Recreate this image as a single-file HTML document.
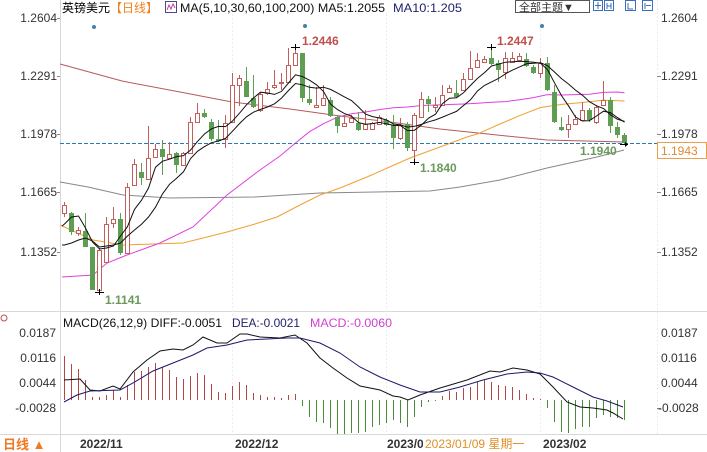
<!DOCTYPE html>
<html><head><meta charset="utf-8"><style>
html,body{margin:0;padding:0;background:#fff;}
svg{display:block;}
</style></head><body>
<svg width="707" height="452" viewBox="0 0 707 452" xmlns="http://www.w3.org/2000/svg" font-family="'Liberation Sans','Noto Sans CJK SC',sans-serif">
<rect width="707" height="452" fill="#fff"/>
<!-- frame / grid -->
<g stroke="#d8d8d8" stroke-width="1" fill="none">
<line x1="60.5" y1="0" x2="60.5" y2="452"/>
<line x1="0" y1="311.5" x2="707" y2="311.5"/>
<line x1="0" y1="434.5" x2="707" y2="434.5"/>
</g>
<g stroke="#ececec" stroke-width="1" stroke-dasharray="2,2">
<line x1="657.5" y1="0" x2="657.5" y2="434"/>
<line x1="232.5" y1="14" x2="232.5" y2="434"/>
<line x1="386.5" y1="14" x2="386.5" y2="434"/>
<line x1="540.5" y1="14" x2="540.5" y2="434"/>
</g>
<g stroke="#888" stroke-width="1">
<line x1="57" y1="18.5" x2="60" y2="18.5"/><line x1="57" y1="76.5" x2="60" y2="76.5"/><line x1="57" y1="134.5" x2="60" y2="134.5"/><line x1="57" y1="192.5" x2="60" y2="192.5"/><line x1="57" y1="252.5" x2="60" y2="252.5"/>
<line x1="657" y1="76.5" x2="661" y2="76.5"/><line x1="657" y1="134.5" x2="661" y2="134.5"/><line x1="657" y1="192.5" x2="661" y2="192.5"/><line x1="657" y1="252.5" x2="661" y2="252.5"/>
<line x1="657" y1="408.5" x2="661" y2="408.5"/>
</g>

<!-- header -->
<text x="62" y="12" font-size="12" fill="#000">英镑美元</text>
<text x="110" y="12" font-size="12" fill="#f08020">【日线】</text>
<rect x="165.5" y="1.5" width="11" height="11" fill="none" stroke="#4a4a8a"/>
<polyline points="167,10 169,5 171,9 173,4 175,8" fill="none" stroke="#c040a0" stroke-width="1"/>
<text x="180" y="12" font-size="12" fill="#111" textLength="205" lengthAdjust="spacingAndGlyphs">MA(5,10,30,60,100,200) MA5:1.2055</text>
<text x="393" y="12" font-size="12" fill="#22226a" textLength="69" lengthAdjust="spacingAndGlyphs">MA10:1.205</text>
<rect x="515.5" y="0.5" width="74" height="12" fill="#fff" stroke="#555"/>
<text x="519" y="11" font-size="11" fill="#333">全部主题▼</text>
<g fill="none" stroke="#3b6fb6">
<rect x="593.5" y="0.5" width="9" height="10"/><rect x="604.5" y="0.5" width="9" height="10"/><rect x="625.5" y="0.5" width="10" height="10"/><rect x="642.5" y="0.5" width="10" height="10"/>
<path d="M598 2v7M595 5.5h6M607 3v6M611 3v6M607 6h4M628 3v6h5M645 3v6M646 5.5h5"/>
</g>

<!-- price axis labels -->
<g font-size="12" fill="#333" text-anchor="end">
<text x="57" y="22">1.2604</text><text x="57" y="80">1.2291</text><text x="57" y="138">1.1978</text><text x="57" y="196">1.1665</text><text x="57" y="256">1.1352</text>
</g>
<g font-size="12" fill="#333">
<text x="661" y="22">1.2604</text><text x="661" y="80">1.2291</text><text x="661" y="138">1.1978</text><text x="661" y="196">1.1665</text><text x="661" y="256">1.1352</text>
</g>

<!-- moving averages (behind candles) -->
<g fill="none" stroke-width="1">
<polyline stroke="#b85a5a" points="60,64 122,81 180,92 232,102 290,109 340,116 390,122 440,129 497,135 547,140 624,142"/>
<polyline stroke="#888" points="60,182 88,187 123,195 170,198 255,197 320,193 430,191 460,187 500,180 547,168 597,157 624,150"/>
<polyline stroke="#f0a030" points="60,225 93,240 123,245 183,243 227,232 255,224 277,217 300,205 320,195 340,188 367,177 410,158 440,147 467,137 477.5,133.9 500,124 519.5,115.7 540.5,107.5 561.5,104.4 582.5,102.5 603.5,100.1 624.5,101"/>
<polyline stroke="#e040e0" points="62,277 93,275 107,263 127,255 160,243 193,227 227,195 260,170 280,156 295.5,143 309.5,131.7 323.5,123.7 337.5,117.1 351.5,113.8 365.5,112 379.5,109.6 393.5,107.8 407.5,107 421.5,105.5 435.5,105 449.5,104.5 463.5,104 477.5,103.2 491.5,102.3 505.5,101.6 519.5,99.7 533.5,97.6 547.5,94.6 561.5,95 575.5,94.6 589.5,94.3 603.5,92.4 617.5,92 624.5,92.9"/>
</g>

<!-- dashed current price line -->
<line x1="60" y1="143.5" x2="657" y2="143.5" stroke="#2a7ab0" stroke-dasharray="4,2"/>

<!-- candles: wicks -->
<path fill="none" stroke="#c0605c" d="M64.5 202V217M78.5 227V236M99.5 248V292M106.5 217V262M113.5 207V228M127.5 183V253M134.5 159V185M148.5 126V179M155.5 144V157M169.5 142V158M183.5 152V165M190.5 117V153M197.5 103V122M225.5 115V148M232.5 73V122M239.5 75V106M260.5 92V112M267.5 82V95M274.5 70V89M281.5 73V90M288.5 48V82M295.5 47V66M316.5 87V108M323.5 85V106M344.5 115V127M351.5 115V123M365.5 110V130M372.5 122V130M379.5 115V125M400.5 118V140M414.5 113V162M421.5 92V118M435.5 97V112M442.5 85V106M449.5 85V93M463.5 73V91M470.5 51V80M477.5 53V68M484.5 56V63M505.5 52V79M512.5 52V63M519.5 53V61M540.5 58V78M568.5 115V138M575.5 115V125M582.5 102V121M596.5 105V124M603.5 81V106"/>
<path fill="none" stroke="#5e9e52" d="M71.5 212V235M85.5 213V247M92.5 247V290M120.5 213V255M141.5 163V185M162.5 140V175M176.5 152V173M204.5 109V118M211.5 119V141M218.5 120V142M246.5 67V97M253.5 75V108M302.5 53V102M309.5 85V105M330.5 97V117M337.5 115V133M358.5 112V131M386.5 118V126M393.5 115V149M407.5 122V151M428.5 96V112M456.5 80V98M491.5 47V65M498.5 60V82M526.5 53V67M533.5 65V74M547.5 57V91M554.5 85V123M561.5 117V131M589.5 108V122M610.5 97V133M617.5 122V138M624.5 133V144"/>
<!-- up candles (hollow) -->
<g fill="#fff" stroke="#c0605c">
<rect x="62.5" y="205.5" width="4" height="8"/>
<rect x="76.5" y="230.5" width="4" height="3"/>
<rect x="97.5" y="250.5" width="4" height="40"/>
<rect x="104.5" y="224.5" width="4" height="38"/>
<rect x="111.5" y="219.5" width="4" height="4"/>
<rect x="125.5" y="187.5" width="4" height="66"/>
<rect x="132.5" y="164.5" width="4" height="21"/>
<rect x="146.5" y="158.5" width="4" height="21"/>
<rect x="153.5" y="149.5" width="4" height="8"/>
<rect x="167.5" y="154.5" width="4" height="4"/>
<rect x="181.5" y="153.5" width="4" height="12"/>
<rect x="188.5" y="122.5" width="4" height="31"/>
<rect x="195.5" y="113.5" width="4" height="9"/>
<rect x="223.5" y="123.5" width="4" height="16"/>
<rect x="230.5" y="85.5" width="4" height="37"/>
<rect x="237.5" y="78.5" width="4" height="7"/>
<rect x="258.5" y="94.5" width="4" height="16"/>
<rect x="265.5" y="89.5" width="4" height="4"/>
<rect x="272.5" y="85.5" width="4" height="2"/>
<rect x="279.5" y="82.5" width="4" height="1"/>
<rect x="286.5" y="65.5" width="4" height="17"/>
<rect x="293.5" y="53.5" width="4" height="12"/>
<rect x="314.5" y="105.5" width="4" height="2"/>
<rect x="321.5" y="98.5" width="4" height="7"/>
<rect x="342.5" y="123.5" width="4" height="3"/>
<rect x="349.5" y="118.5" width="4" height="4"/>
<rect x="363.5" y="124.5" width="4" height="5"/>
<rect x="370.5" y="123.5" width="4" height="6"/>
<rect x="377.5" y="117.5" width="4" height="7"/>
<rect x="398.5" y="125.5" width="4" height="13"/>
<rect x="412.5" y="115.5" width="4" height="35"/>
<rect x="419.5" y="99.5" width="4" height="18"/>
<rect x="433.5" y="105.5" width="4" height="2"/>
<rect x="440.5" y="95.5" width="4" height="10"/>
<rect x="447.5" y="88.5" width="4" height="4"/>
<rect x="461.5" y="79.5" width="4" height="11"/>
<rect x="468.5" y="68.5" width="4" height="11"/>
<rect x="475.5" y="60.5" width="4" height="7"/>
<rect x="482.5" y="59.5" width="4" height="3"/>
<rect x="503.5" y="58.5" width="4" height="14"/>
<rect x="510.5" y="58.5" width="4" height="4"/>
<rect x="517.5" y="56.5" width="4" height="4"/>
<rect x="538.5" y="63.5" width="4" height="10"/>
<rect x="566.5" y="124.5" width="4" height="5"/>
<rect x="573.5" y="119.5" width="4" height="5"/>
<rect x="580.5" y="110.5" width="4" height="10"/>
<rect x="594.5" y="107.5" width="4" height="15"/>
<rect x="601.5" y="100.5" width="4" height="5"/>
</g>
<!-- down candles (filled) -->
<g fill="#5e9e52">
<rect x="69" y="213" width="5" height="19"/>
<rect x="83" y="231" width="5" height="16"/>
<rect x="90" y="247" width="5" height="43"/>
<rect x="118" y="219" width="5" height="34"/>
<rect x="139" y="172" width="5" height="6"/>
<rect x="160" y="149" width="5" height="8"/>
<rect x="174" y="153" width="5" height="12"/>
<rect x="202" y="113" width="5" height="4"/>
<rect x="209" y="122" width="5" height="17"/>
<rect x="216" y="139" width="5" height="2"/>
<rect x="244" y="81" width="5" height="16"/>
<rect x="251" y="98" width="5" height="9"/>
<rect x="300" y="53" width="5" height="45"/>
<rect x="307" y="99" width="5" height="4"/>
<rect x="328" y="100" width="5" height="16"/>
<rect x="335" y="117" width="5" height="9"/>
<rect x="356" y="123" width="5" height="7"/>
<rect x="384" y="120" width="5" height="5"/>
<rect x="391" y="125" width="5" height="13"/>
<rect x="405" y="124" width="5" height="24"/>
<rect x="426" y="99" width="5" height="5"/>
<rect x="454" y="93" width="5" height="4"/>
<rect x="489" y="58" width="5" height="6"/>
<rect x="496" y="63" width="5" height="7"/>
<rect x="524" y="59" width="5" height="7"/>
<rect x="531" y="67" width="5" height="6"/>
<rect x="545" y="63" width="5" height="27"/>
<rect x="552" y="92" width="5" height="30"/>
<rect x="559" y="127" width="5" height="3"/>
<rect x="587" y="110" width="5" height="10"/>
<rect x="608" y="100" width="5" height="26"/>
<rect x="615" y="127" width="5" height="8"/>
<rect x="622" y="135" width="5" height="8"/>
</g>

<!-- MA5 / MA10 (black) -->
<g fill="none" stroke="#111" stroke-width="1">
<polyline points="62,226 64.5,224 71.5,217 78.5,216 85.5,228 92.5,242 99.5,249 106.5,248 113.5,246 120.5,236 127.5,226.6 134.5,209.4 141.5,200.2 148.5,188 155.5,167.2 162.5,161.2 169.5,159.2 176.5,156.6 183.5,155.6 190.5,150.2 197.5,141.4 204.5,134 211.5,128.8 218.5,126.4 225.5,126.6 232.5,121 239.5,113.2 246.5,104.8 253.5,98 260.5,92.2 267.5,93 274.5,94.4 281.5,91.4 288.5,83 295.5,74.8 302.5,76.6 309.5,80.2 316.5,84.8 323.5,91.4 330.5,104 337.5,109.6 344.5,113.6 351.5,116.2 358.5,122.6 365.5,124.2 372.5,123.6 379.5,122.4 386.5,123.8 393.5,125.4 400.5,125.6 407.5,130.6 414.5,130.2 421.5,125 428.5,118.2 435.5,114.2 442.5,103.6 449.5,98.2 456.5,97.8 463.5,92.8 470.5,85.4 477.5,78.4 484.5,72.6 491.5,66 498.5,64.2 505.5,62.2 512.5,61.8 519.5,61.2 526.5,61.6 533.5,62.2 540.5,63.2 547.5,69.6 554.5,82.8 561.5,95.6 568.5,105.8 575.5,117 582.5,121 589.5,120.6 596.5,116 603.5,111.2 610.5,112.6 617.5,117.6 624.5,122.2"/>
<polyline points="62,245 64.5,245 71.5,243 78.5,240 85.5,238 92.5,241 99.5,247 106.5,246 113.5,245 120.5,243 127.5,236 134.5,230 141.5,224.2 148.5,217 155.5,207.2 162.5,193.9 169.5,184.3 176.5,178.4 183.5,171.8 190.5,158.7 197.5,151.3 204.5,146.6 211.5,142.7 218.5,141 225.5,138.4 232.5,131.2 239.5,123.6 246.5,116.8 253.5,112.2 260.5,109.4 267.5,107 274.5,103.8 281.5,98.1 288.5,90.5 295.5,83.5 302.5,84.8 309.5,87.3 316.5,88.1 323.5,87.2 330.5,89.4 337.5,93.1 344.5,96.9 351.5,100.5 358.5,107 365.5,114.1 372.5,116.6 379.5,118 386.5,120 393.5,124 400.5,124.9 407.5,127.1 414.5,126.3 421.5,124.4 428.5,121.8 435.5,119.9 442.5,117.1 449.5,114.2 456.5,111.4 463.5,105.5 470.5,99.8 477.5,91 484.5,85.4 491.5,81.9 498.5,78.5 505.5,73.8 512.5,70.1 519.5,66.9 526.5,63.8 533.5,63.2 540.5,62.7 547.5,65.7 554.5,72 561.5,78.6 568.5,84 575.5,90.1 582.5,95.3 589.5,101.7 596.5,105.8 603.5,108.5 610.5,114.8 617.5,119.3 624.5,121.4"/>
</g>

<!-- markers -->
<g fill="#4682a8"><circle cx="94" cy="27" r="2"/><circle cx="305" cy="26" r="2"/><circle cx="542" cy="26" r="2"/></g>
<g stroke="#000" stroke-width="1">
<path d="M95 292.5h9M99.5 289v6M291 47.5h9M295.5 44v6M410 162.5h9M414.5 159v6M487 47.5h9M491.5 44v6M620 144.5h8"/>
</g>
<path d="M625 142l3 2.5l-3 2.5z" fill="#000"/>
<g font-size="12" font-weight="bold">
<text x="302" y="45" fill="#c0504d">1.2446</text>
<text x="497" y="45" fill="#c0504d">1.2447</text>
<text x="420" y="172" fill="#6a9a5a">1.1840</text>
<text x="580" y="155" fill="#6a9a5a">1.1940</text>
<text x="105" y="304" fill="#6a9a5a">1.1141</text>
</g>
<rect x="657.5" y="142.5" width="49" height="16" fill="#fff" stroke="#e8a050"/>
<text x="661" y="155" font-size="12" fill="#e08a30">1.1943</text>

<!-- MACD panel -->
<circle cx="4" cy="318" r="3" fill="none" stroke="#c05050"/>
<text x="63" y="327" font-size="12" fill="#111" textLength="159" lengthAdjust="spacingAndGlyphs">MACD(26,12,9) DIFF:-0.0051</text>
<text x="232" y="327" font-size="12" fill="#22226a" textLength="68" lengthAdjust="spacingAndGlyphs">DEA:-0.0021</text>
<text x="310" y="327" font-size="12" fill="#d040d0" textLength="82" lengthAdjust="spacingAndGlyphs">MACD:-0.0060</text>
<g font-size="12" fill="#333" text-anchor="end">
<text x="56" y="337">0.0187</text><text x="56" y="362">0.0116</text><text x="56" y="387">0.0044</text><text x="56" y="412">-0.0028</text>
</g>
<g font-size="12" fill="#333">
<text x="661" y="337">0.0187</text><text x="661" y="362">0.0116</text><text x="661" y="387">0.0044</text><text x="658" y="412">-0.0028</text>
</g>
<path fill="none" stroke="#b04848" d="M64.5 400V356M71.5 400V364M78.5 400V369M85.5 400V380M92.5 400V397M99.5 400V397M106.5 400V395M113.5 400V390M120.5 400V397M127.5 400V385M134.5 400V372M141.5 400V371M148.5 400V367M155.5 400V363M162.5 400V367M169.5 400V370M176.5 400V377M183.5 400V379M190.5 400V376M197.5 400V373M204.5 400V375M211.5 400V384M218.5 400V392M225.5 400V393M232.5 400V386M239.5 400V382M246.5 400V385M253.5 400V393M260.5 400V395M267.5 400V397M274.5 400V397M281.5 400V398M288.5 400V395M295.5 400V394M442.5 400V396M449.5 400V391M456.5 400V392M463.5 400V388M470.5 400V387M477.5 400V382M484.5 400V380M491.5 400V382M498.5 400V385M505.5 400V386M512.5 400V387M519.5 400V390M526.5 400V394M533.5 400V398M540.5 400V399"/>
<path fill="none" stroke="#4a8a3a" d="M302.5 400V406M309.5 400V417M316.5 400V422M323.5 400V423M330.5 400V428M337.5 400V434M344.5 400V434M351.5 400V433M358.5 400V433M365.5 400V432M372.5 400V427M379.5 400V425M386.5 400V423M393.5 400V420M400.5 400V423M407.5 400V427M414.5 400V417M421.5 400V407M428.5 400V402M435.5 400V401M547.5 400V408M554.5 400V422M561.5 400V432M568.5 400V433M575.5 400V429M582.5 400V427M589.5 400V427M596.5 400V418M603.5 400V415M610.5 400V417M617.5 400V418M624.5 400V420"/>
<polyline fill="none" stroke="#111" points="64,380 80,379 90,390 100,391 113,386 120,389 133,372 147,360 160,351 173,349 183,350 193,345 203,337 217,343 227,343 240,334 247,334 260,337 280,338 295,335 307,343 320,358 333,368 347,378 360,386 380,390 393,396 400,397 408,400 420,395 440,388 467,380 490,371 500,372 513,368 527,370 540,374 553,387 567,402 580,407 593,408 607,410 613,413 623,419"/>
<polyline fill="none" stroke="#1a1a6a" points="64,402 77,395 90,391 120,390 133,383 153,371 173,363 193,355 207,348 227,345 247,340 267,339 287,338 300,338 320,343 340,353 360,367 380,377 400,385 420,392 440,392 460,387 483,380 507,374 527,372 540,373 553,377 573,387 593,397 607,401 623,407"/>

<!-- date axis -->
<g font-size="12" font-weight="bold" fill="#333">
<text x="80" y="448">2022/11</text>
<text x="235" y="448">2022/12</text>
<text x="387" y="448">2023/01</text>
<text x="543" y="448">2023/02</text>
</g>
<rect x="423" y="436" width="112" height="16" fill="#fff"/>
<text x="425" y="448" font-size="12" fill="#e0902a">2023/01/09 星期一</text>
<text x="3" y="449" font-size="13" font-weight="bold" fill="#f07820">日线 ▲</text>
</svg>
</body></html>
